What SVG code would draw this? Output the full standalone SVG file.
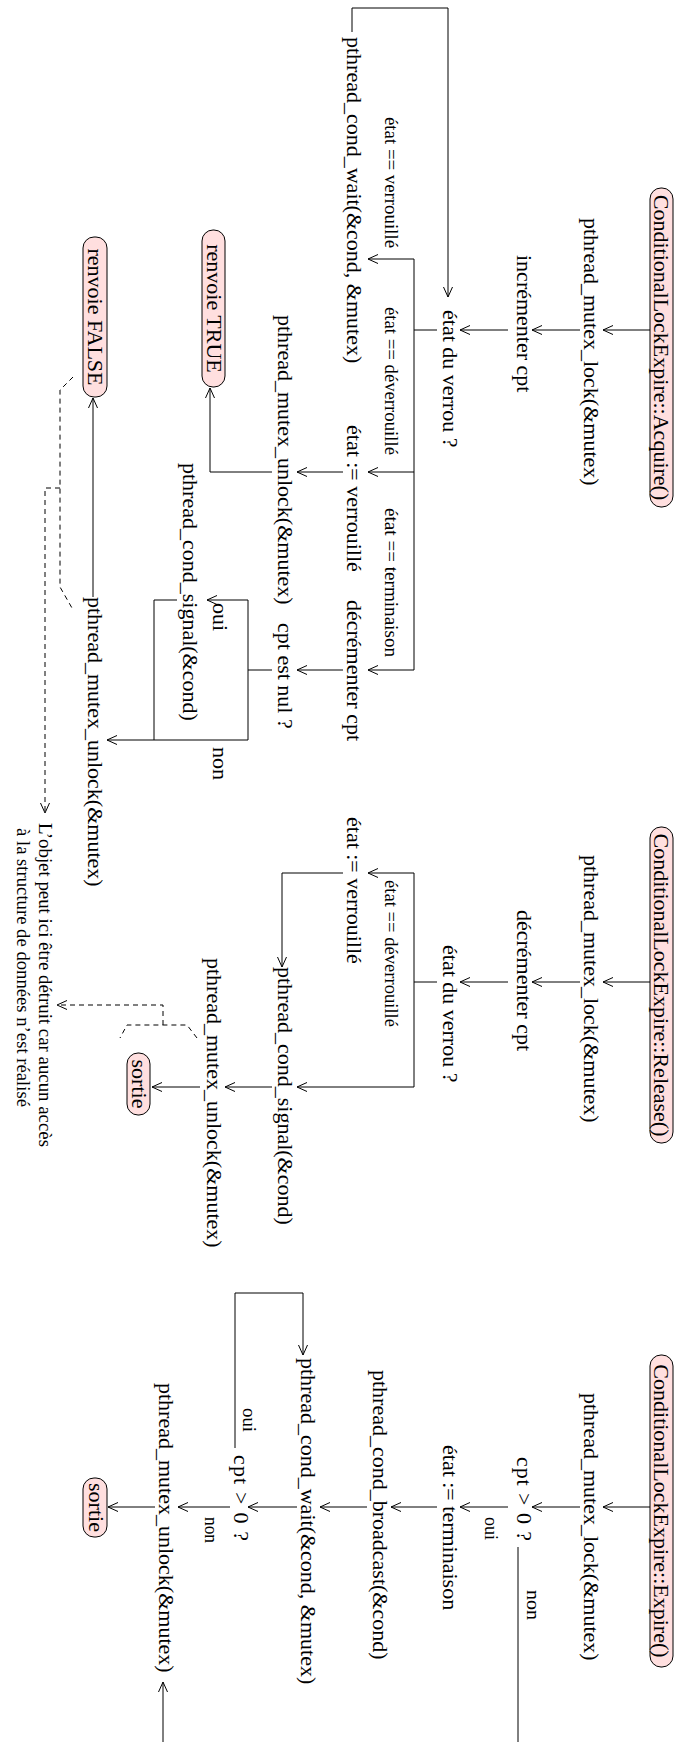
<svg xmlns="http://www.w3.org/2000/svg" width="675" height="1742" viewBox="0 0 675 1742">
<style>
.t{font-family:"Liberation Serif","Times New Roman",serif;font-size:22px;fill:#000}
.s{font-size:18px}
.m{text-anchor:middle}
.box{fill:#ffdfdf;stroke:#000;stroke-width:1}
.c{fill:none;stroke:#000;stroke-width:1}
.a{marker-end:url(#ah)}
.d{stroke-dasharray:5 4}
</style>
<defs>
<marker id="ah" markerUnits="userSpaceOnUse" markerWidth="12" markerHeight="12" viewBox="0 0 12 12" refX="11" refY="6" orient="auto">
<path d="M1,1.5 L11,6 L1,10.5" fill="none" stroke="#000" stroke-width="1"/>
</marker>
</defs>
<rect width="675" height="1742" fill="#fff"/>
<g transform="translate(675,0) rotate(90)">
<g id="connectors">
<!-- Acquire -->
<path class="c a" d="M330,25 V72"/>
<path class="c a" d="M330,95 V143"/>
<path class="c a" d="M330,167 V215"/>
<path class="c" d="M330,238 V261 M259,261 H670"/>
<path class="c a" d="M259,261 V307"/>
<path class="c a" d="M472,261 V307"/>
<path class="c a" d="M670,261 V307"/>
<path class="c a" d="M32,323 H8 V227 H297"/>
<path class="c a" d="M472,332 V378"/>
<path class="c a" d="M670,332 V378"/>
<path class="c a" d="M472,403 V465 H388"/>
<path class="c" d="M670,403 V427 M600,427 H740"/>
<path class="c a" d="M600,427 V468"/>
<path class="c a" d="M740,427 V568"/>
<path class="c" d="M600,498 V521 H740"/>
<path class="c a" d="M597,582 H398"/>
<path class="c d" d="M377,602 L390,615 H587 L608,603"/>
<path class="c d a" d="M488,615 V630 H813"/>
<!-- Release -->
<path class="c a" d="M982,25 V72"/>
<path class="c a" d="M982,95 V143"/>
<path class="c a" d="M982,167 V215"/>
<path class="c" d="M982,238 V261 M873,261 H1087"/>
<path class="c a" d="M873,261 V307"/>
<path class="c a" d="M1087,261 V378"/>
<path class="c a" d="M873,332 V393 H967"/>
<path class="c a" d="M1087,403 V450"/>
<path class="c a" d="M1087,475 V523"/>
<path class="c d" d="M1038,478 L1025,488 V548 L1038,555"/>
<path class="c d a" d="M1025,512 H1005 V618"/>
<!-- Expire -->
<path class="c a" d="M1507,25 V72"/>
<path class="c a" d="M1507,95 V143"/>
<path class="c a" d="M1507,167 V215"/>
<path class="c a" d="M1507,238 V284"/>
<path class="c a" d="M1507,308 V355"/>
<path class="c a" d="M1507,378 V427"/>
<path class="c a" d="M1507,445 V497"/>
<path class="c a" d="M1507,520 V567"/>
<path class="c a" d="M1547,157 H1760 V512 H1682"/>
<path class="c a" d="M1448,440 H1293 V372 H1355"/>
</g>
<!-- Acquire nodes -->
<g id="acq-start"><rect class="box" x="188" y="2" width="319" height="23" rx="11"/><text class="t m" x="347.5" y="21">ConditionalLockExpire::Acquire()</text></g>
<g id="acq-lock"><text class="t" x="218" y="91">pthread_mutex_lock(&amp;mutex)</text></g>
<g id="acq-inc"><text class="t" x="255" y="158">incrémenter cpt</text></g>
<g id="acq-etat"><text class="t" x="310" y="232">état du verrou ?</text></g>
<g id="acq-lbl"><text class="t s" x="117" y="290" textLength="131" lengthAdjust="spacingAndGlyphs">état == verrouillé</text>
<text class="t s" x="307" y="290" textLength="148" lengthAdjust="spacingAndGlyphs">état == déverrouillé</text>
<text class="t s" x="508" y="290" textLength="149" lengthAdjust="spacingAndGlyphs">état == terminaison</text></g>
<g id="acq-wait"><text class="t" x="37" y="328">pthread_cond_wait(&amp;cond, &amp;mutex)</text></g>
<g id="acq-set"><text class="t" x="425" y="328">état := verrouillé</text></g>
<g id="acq-dec"><text class="t" x="600" y="328">décrémenter cpt</text></g>
<g id="acq-unlock1"><text class="t" x="315" y="397">pthread_mutex_unlock(&amp;mutex)</text></g>
<g id="acq-nul"><text class="t" x="623" y="397">cpt est nul ?</text></g>
<g id="acq-true"><rect class="box" x="230" y="450" width="157" height="23" rx="11"/><text class="t m" x="308.5" y="468">renvoie TRUE</text></g>
<g id="acq-oui"><text class="t" x="603" y="462">oui</text><text class="t" x="747" y="462">non</text></g>
<g id="acq-signal"><text class="t" x="463" y="492">pthread_cond_signal(&amp;cond)</text></g>
<g id="acq-unlock2"><text class="t" x="597" y="587">pthread_mutex_unlock(&amp;mutex)</text></g>
<g id="acq-false"><rect class="box" x="237" y="568" width="160" height="24" rx="11"/><text class="t m" x="317" y="587">renvoie FALSE</text></g>
<g id="note"><text class="t s" x="823" y="636" textLength="324" lengthAdjust="spacingAndGlyphs">L’objet peut ici être détruit car aucun accès</text>
<text class="t s" x="828" y="658" textLength="279" lengthAdjust="spacingAndGlyphs">à la structure de données n’est réalisé</text></g>
<!-- Release nodes -->
<g id="rel-start"><rect class="box" x="827" y="2" width="316" height="23" rx="11"/><text class="t m" x="985" y="21">ConditionalLockExpire::Release()</text></g>
<g id="rel-lock"><text class="t" x="855" y="91">pthread_mutex_lock(&amp;mutex)</text></g>
<g id="rel-dec"><text class="t" x="910" y="158">décrémenter cpt</text></g>
<g id="rel-etat"><text class="t" x="945" y="232">état du verrou ?</text></g>
<g id="rel-lbl"><text class="t s" x="880" y="290" textLength="147" lengthAdjust="spacingAndGlyphs">état == déverrouillé</text></g>
<g id="rel-set"><text class="t" x="817" y="328">état := verrouillé</text></g>
<g id="rel-signal"><text class="t" x="967" y="397">pthread_cond_signal(&amp;cond)</text></g>
<g id="rel-unlock"><text class="t" x="958" y="468">pthread_mutex_unlock(&amp;mutex)</text></g>
<g id="rel-end"><rect class="box" x="1053" y="525" width="62" height="23" rx="11"/><text class="t m" x="1084" y="543">sortie</text></g>
<!-- Expire nodes -->
<g id="exp-start"><rect class="box" x="1355" y="2" width="312" height="23" rx="11"/><text class="t m" x="1511" y="21">ConditionalLockExpire::Expire()</text></g>
<g id="exp-lock"><text class="t" x="1393" y="91">pthread_mutex_lock(&amp;mutex)</text></g>
<g id="exp-cpt1"><text class="t" x="1457" y="158" textLength="84" lengthAdjust="spacing">cpt &gt; 0 ?</text><text class="t s" x="1590" y="148" textLength="30" lengthAdjust="spacingAndGlyphs">non</text><text class="t s" x="1517" y="190" textLength="23" lengthAdjust="spacingAndGlyphs">oui</text></g>
<g id="exp-set"><text class="t" x="1445" y="232">état := terminaison</text></g>
<g id="exp-bcast"><text class="t" x="1370" y="302">pthread_cond_broadcast(&amp;cond)</text></g>
<g id="exp-wait"><text class="t" x="1358" y="374">pthread_cond_wait(&amp;cond, &amp;mutex)</text></g>
<g id="exp-cpt2"><text class="t" x="1455" y="441" textLength="86" lengthAdjust="spacing">cpt &gt; 0 ?</text><text class="t s" x="1408" y="432" textLength="24" lengthAdjust="spacingAndGlyphs">oui</text><text class="t s" x="1517" y="470" textLength="26" lengthAdjust="spacingAndGlyphs">non</text></g>
<g id="exp-unlock"><text class="t" x="1383" y="516">pthread_mutex_unlock(&amp;mutex)</text></g>
<g id="exp-end"><rect class="box" x="1478" y="568" width="59" height="24" rx="11"/><text class="t m" x="1507.5" y="586">sortie</text></g>
</g>
</svg>
